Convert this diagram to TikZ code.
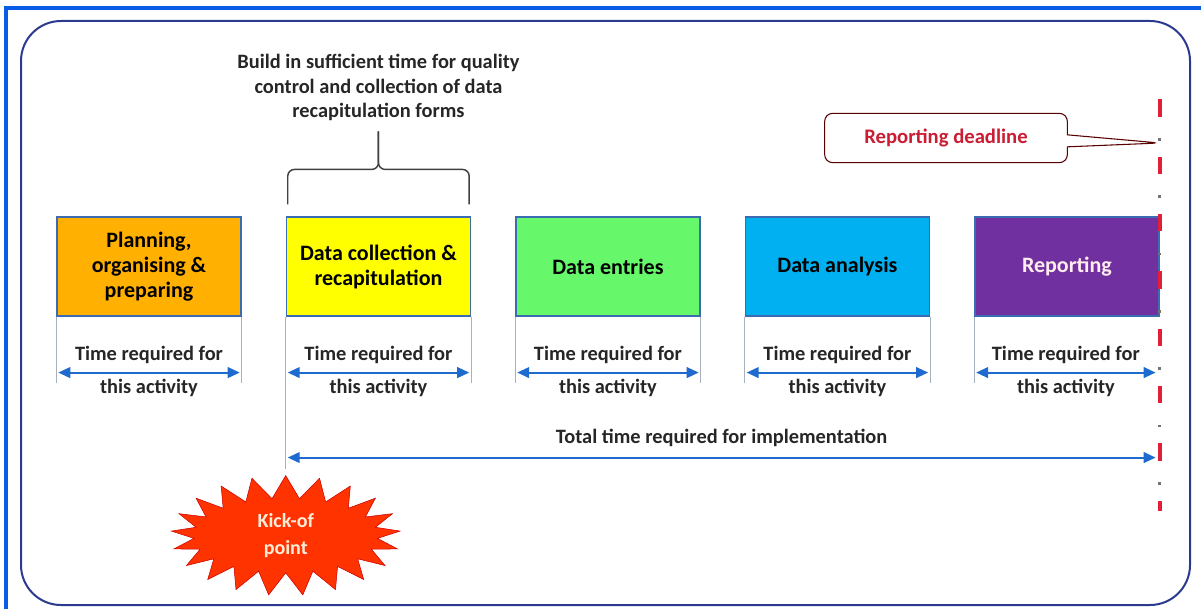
\documentclass[tikz,border=0pt]{standalone}
\usepackage{fontspec}
\setmainfont{Carlito}
\usepackage{xcolor}
\usepackage{tikz}
\usetikzlibrary{calc,arrows.meta,positioning,shapes.symbols,shapes.callouts}

\definecolor{frameblue}{HTML}{0A5CE6}
\definecolor{rimblue}{HTML}{2B3A8F}
\definecolor{boxline}{HTML}{3B6BB0}
\definecolor{planorange}{HTML}{FFB000}
\definecolor{collyellow}{HTML}{FFFF00}
\definecolor{entrygreen}{HTML}{66F86A}
\definecolor{analysisblue}{HTML}{00B0F0}
\definecolor{reportpurple}{HTML}{7030A0}
\definecolor{spanblue}{HTML}{1F6ACF}
\definecolor{guidegray}{HTML}{A8B0C0}
\definecolor{deadred}{HTML}{E0203A}
\definecolor{burstred}{HTML}{FF3300}

\begin{document}
\begin{tikzpicture}[
    x=0.75pt, y=-0.75pt,
    node distance=33pt,
    phase/.style={rectangle, draw=boxline, line width=1.1pt, minimum width=138pt, minimum height=74pt, align=center, font=\fontsize{16.5}{18.75}\selectfont\bfseries},
    span/.style={{Triangle[length=9pt,width=8pt]}-{Triangle[length=9pt,width=8pt]}, line width=1.5pt, draw=spanblue},
    guide/.style={draw=guidegray, line width=0.6pt},
    lbl/.style={font=\fontsize{15.3}{18}\selectfont\bfseries, text=black!85},
    brace/.style={draw=black!75, line width=1.1pt, rounded corners=5pt},
    burst/.style={starburst, starburst points=21, starburst point height=17pt, random starburst=0, fill=burstred, draw=red!80!black, minimum width=172pt, minimum height=86pt, align=center, text=orange!15, font=\fontsize{15}{20}\selectfont\bfseries},
    callbox/.style={rectangle callout, rounded corners=6pt, draw=black!65!red, line width=0.8pt, fill=white, minimum width=182pt, minimum height=37pt, text=deadred!90!black, font=\fontsize{15.5}{17}\selectfont\bfseries, callout pointer width=9pt}
]
\useasboundingbox (0,0) rectangle (1201,609);

% frames
\draw[frameblue, line width=3pt] (6,8) rectangle (1230,640);
\draw[rimblue, line width=1.5pt, rounded corners=30pt] (21,21) rectangle (1190,605);

% activity boxes
\node[phase, fill=planorange] (plan) at (149,266.5) {Planning,\\organising \&\\preparing};
\node[phase, fill=collyellow, right=of plan] (collect) {Data collection \&\\recapitulation};
\node[phase, fill=entrygreen, right=of collect] (entry) {Data entries};
\node[phase, fill=analysisblue, right=of entry] (analysis) {Data analysis};
\node[phase, fill=reportpurple, right=of analysis, text=pink!30] (report) {Reporting};

% guide lines
\draw[guide] (plan.south west) -- ++(0,66);
\draw[guide] (plan.south east) -- ++(0,66);
\draw[guide] (collect.south east) -- ++(0,66);
\draw[guide] (entry.south west) -- ++(0,66);
\draw[guide] (entry.south east) -- ++(0,66);
\draw[guide] (analysis.south west) -- ++(0,66);
\draw[guide] (analysis.south east) -- ++(0,66);
\draw[guide] (report.south west) -- ++(0,66);

% time per activity
\draw[span] ($(plan.south west)+(2,56)$) -- ($(plan.south east)+(-2,56)$)
    node[lbl, midway, above=2.5pt] {Time required for} node[lbl, midway, below=0.5pt] {this activity};
\draw[span] ($(collect.south west)+(2,56)$) -- ($(collect.south east)+(-2,56)$)
    node[lbl, midway, above=2.5pt] {Time required for} node[lbl, midway, below=0.5pt] {this activity};
\draw[span] ($(entry.south west)+(2,56)$) -- ($(entry.south east)+(-2,56)$)
    node[lbl, midway, above=2.5pt] {Time required for} node[lbl, midway, below=0.5pt] {this activity};
\draw[span] ($(analysis.south west)+(2,56)$) -- ($(analysis.south east)+(-2,56)$)
    node[lbl, midway, above=2.5pt] {Time required for} node[lbl, midway, below=0.5pt] {this activity};
\draw[span] ($(report.south west)+(2,56)$) -- ($(report.south east)+(-4,56)$)
    node[lbl, midway, above=2.5pt] {Time required for} node[lbl, midway, below=0.5pt] {this activity};

% kick-off and total time
\node[burst] (kick) at ($(collect.south west)+(0,219)$) {Kick-of\\point};
\draw[guide] (collect.south west) -- ($(collect.south west)+(0,152)$);
\draw[span] ($(collect.south west)+(2,141)$) -- ($(report.south east)+(-4,141)$)
    node[lbl, midway, above=4pt] {Total time required for implementation};

% quality note with brace
\draw[brace] ($(collect.north west)+(2,-12)$) |- ($(collect.north)+(0,-47)$) -- ($(collect.north)+(0,-85)$);
\draw[brace] ($(collect.north east)+(-2,-12)$) |- ($(collect.north)+(0,-47)$) -- ($(collect.north)+(0,-85)$);
\node[lbl, align=center, font=\fontsize{15.3}{18.4}\selectfont\bfseries, above=68pt of collect] (advice)
    {Build in sufficient time for quality\\control and collection of data\\recapitulation forms};

% reporting deadline
\coordinate (dltop) at ($(report.north east)+(0,-117)$);
\coordinate (dlbot) at ($(report.south east)+(0,194)$);
\draw[deadred, line width=3pt, dash pattern=on 13pt off 30pt] (dltop) -- (dlbot);
\draw[black!55, line width=2.5pt, dash pattern=on 2pt off 41pt, dash phase=-29pt] (dltop) -- (dlbot);
\node[callbox, callout absolute pointer={(dltop |- 0,143)}] (deadline) at (946,138) {Reporting deadline};
\end{tikzpicture}
\end{document}
